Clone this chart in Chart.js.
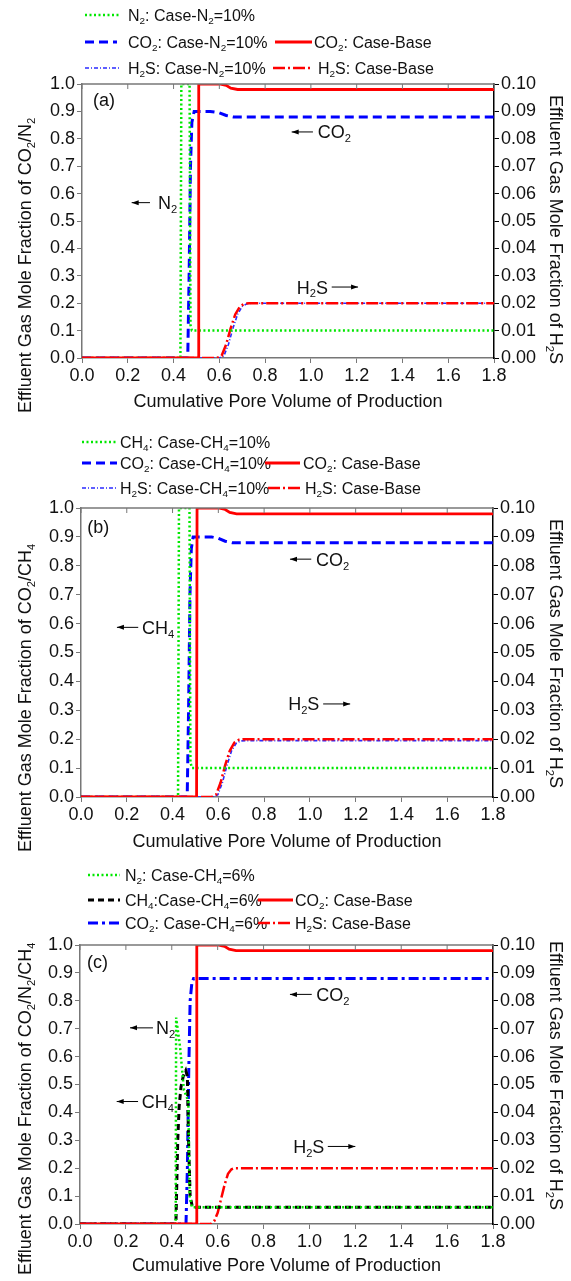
<!DOCTYPE html>
<html>
<head>
<meta charset="utf-8">
<script src="https://cdn.jsdelivr.net/npm/chart.js@4.4.1/dist/chart.umd.min.js"></script>
<style>
  body { margin: 0; background: #fff; width: 571px; height: 1281px; position: relative; overflow: hidden; }
  canvas { position: absolute; left: 0; }
</style>
</head>
<body>
<canvas id="chartA" width="571" height="420" style="top:0px"></canvas>
<canvas id="chartB" width="571" height="440" style="top:420px"></canvas>
<canvas id="chartC" width="571" height="421" style="top:860px"></canvas>
<script>
// ---- tick labels ----
const xTicks = [0, 0.2, 0.4, 0.6, 0.8, 1.0, 1.2, 1.4, 1.6, 1.8];
const yLeftTicks = [0, 0.1, 0.2, 0.3, 0.4, 0.5, 0.6, 0.7, 0.8, 0.9, 1.0];
const yRightTicks = [0, 0.01, 0.02, 0.03, 0.04, 0.05, 0.06, 0.07, 0.08, 0.09, 0.10];

// ---- panel (a) ----
const aN2X   = [0, 0.430, 0.434, 0.470, 0.474, 0.480, 1.8];
const aN2Y   = [0, 0, 1.0, 1.0, 0.12, 0.10, 0.10];
const aCO2X  = [0, 0.462, 0.468, 0.474, 0.480, 0.490, 0.560, 0.600, 0.630, 0.660, 1.8];
const aCO2Y  = [0, 0, 0.30, 0.70, 0.86, 0.90, 0.90, 0.895, 0.885, 0.88, 0.88];
const aH2SX  = [0, 0.600, 0.620, 0.640, 0.660, 0.680, 0.700, 0.720, 0.740, 1.8];
const aH2SY  = [0, 0, 0.0008, 0.005, 0.011, 0.016, 0.0188, 0.0198, 0.020, 0.020];
const aBaseCO2X = [0, 0.508, 0.510, 0.600, 0.630, 0.650, 0.680, 1.8];
const aBaseCO2Y = [0, 0, 1.0, 1.0, 0.995, 0.985, 0.98, 0.98];
const aBaseH2SX = [0, 0.590, 0.610, 0.630, 0.650, 0.670, 0.690, 0.710, 0.730, 1.8];
const aBaseH2SY = [0, 0, 0.0008, 0.005, 0.011, 0.016, 0.0188, 0.0198, 0.020, 0.020];

// ---- panel (b) ----
const bCH4X  = [0, 0.424, 0.428, 0.474, 0.478, 0.485, 1.8];
const bCH4Y  = [0, 0, 1.0, 1.0, 0.12, 0.10, 0.10];
const bCO2X  = [0, 0.464, 0.470, 0.476, 0.482, 0.490, 0.570, 0.600, 0.630, 0.660, 1.8];
const bCO2Y  = [0, 0, 0.30, 0.70, 0.86, 0.90, 0.90, 0.895, 0.885, 0.88, 0.88];
const bH2SX  = [0, 0.578, 0.598, 0.618, 0.638, 0.658, 0.678, 0.698, 0.718, 1.8];
const bH2SY  = [0, 0, 0.0008, 0.005, 0.011, 0.016, 0.0186, 0.0194, 0.0195, 0.0195];
const bBaseCO2X = [0, 0.505, 0.507, 0.600, 0.630, 0.650, 0.680, 1.8];
const bBaseCO2Y = [0, 0, 1.0, 1.0, 0.995, 0.985, 0.98, 0.98];
const bBaseH2SX = [0, 0.570, 0.590, 0.610, 0.630, 0.650, 0.670, 0.690, 0.710, 1.8];
const bBaseH2SY = [0, 0, 0.0008, 0.005, 0.011, 0.016, 0.0188, 0.0198, 0.020, 0.020];

// ---- panel (c) ----
const cN2X   = [0, 0.417, 0.419, 0.436, 0.453, 0.465, 0.472, 0.478, 0.488, 1.8];
const cN2Y   = [0, 0, 0.74, 0.635, 0.48, 0.455, 0.44, 0.10, 0.06, 0.06];
const cCH4X  = [0, 0.418, 0.422, 0.426, 0.432, 0.440, 0.450, 0.461, 0.468, 0.473, 0.480, 0.490, 1.8];
const cCH4Y  = [0, 0, 0.15, 0.30, 0.42, 0.49, 0.53, 0.55, 0.53, 0.30, 0.10, 0.06, 0.06];
const cCO2X  = [0, 0.462, 0.468, 0.474, 0.480, 0.487, 0.495, 1.8];
const cCO2Y  = [0, 0, 0.20, 0.55, 0.80, 0.86, 0.88, 0.88];
const cBaseCO2X = [0, 0.507, 0.509, 0.600, 0.630, 0.650, 0.680, 1.8];
const cBaseCO2Y = [0, 0, 1.0, 1.0, 0.995, 0.985, 0.98, 0.98];
const cBaseH2SX = [0, 0.570, 0.585, 0.600, 0.615, 0.630, 0.645, 0.660, 0.675, 1.8];
const cBaseH2SY = [0, 0, 0.001, 0.004, 0.009, 0.014, 0.018, 0.0196, 0.020, 0.020];

const FONT = '"Liberation Sans", Arial, sans-serif';

// line styles
const S = {
  green:   { color: '#00e800', width: 2.5, dash: [2, 2.5] },
  blueDash:{ color: '#0000ff', width: 3, dash: [9, 5] },
  blueH2S: { color: '#2a2aff', width: 1.6, dash: [4, 2, 1, 2] },
  red:     { color: '#ff0000', width: 2.8, dash: [] },
  redDash: { color: '#ff0000', width: 2.5, dash: [12, 3, 2, 3] },
  black:   { color: '#000000', width: 3, dash: [6, 4] },
  blueDot: { color: '#0000ff', width: 3, dash: [10, 4, 3, 4] }
};

function series(xs, ys, st, axis) {
  return {
    data: xs.map((x, i) => ({ x: x, y: ys[i] })),
    yAxisID: axis,
    borderColor: st.color,
    borderWidth: st.width,
    borderDash: st.dash,
    pointRadius: 0,
    tension: 0,
    fill: false
  };
}

// rich text with "_x" as subscript
function splitRich(str) {
  const parts = [];
  for (let i = 0; i < str.length; i++) {
    if (str[i] === '_') { parts.push({ t: str[i + 1], sub: true }); i++; }
    else if (parts.length && !parts[parts.length - 1].sub) parts[parts.length - 1].t += str[i];
    else parts.push({ t: str[i], sub: false });
  }
  return parts;
}
function richWidth(ctx, parts, size) {
  let w = 0;
  parts.forEach(p => {
    ctx.font = (p.sub ? size * 0.62 : size) + 'px ' + FONT;
    w += ctx.measureText(p.t).width;
  });
  return w;
}
// y is the middle of the capitals
function drawRich(ctx, str, x, y, size, align) {
  const parts = splitRich(str);
  const w = richWidth(ctx, parts, size);
  let cx = align === 'center' ? x - w / 2 : (align === 'right' ? x - w : x);
  const base = y + size * 0.36;
  ctx.textBaseline = 'alphabetic';
  ctx.textAlign = 'left';
  parts.forEach(p => {
    ctx.font = (p.sub ? size * 0.62 : size) + 'px ' + FONT;
    ctx.fillText(p.t, cx, p.sub ? base + size * 0.22 : base);
    cx += ctx.measureText(p.t).width;
  });
  return w;
}

function arrow(ctx, x1, y, x2) {
  ctx.save();
  ctx.setLineDash([]);
  ctx.strokeStyle = '#000';
  ctx.fillStyle = '#000';
  ctx.lineWidth = 1;
  ctx.beginPath(); ctx.moveTo(x1, y); ctx.lineTo(x2, y); ctx.stroke();
  const d = x2 > x1 ? 1 : -1;
  ctx.beginPath();
  ctx.moveTo(x2, y);
  ctx.lineTo(x2 - d * 7, y - 2.5);
  ctx.lineTo(x2 - d * 7, y + 2.5);
  ctx.closePath(); ctx.fill();
  ctx.restore();
}

// decorations per panel: legend, titles, labels
const deco = {
  chartA: {
    label: '(a)', labelAt: [0.048, 0.945],
    legend: [
      { y: 15, x0: 85, x1: 120, tx: 128, st: S.green, text: 'N_2: Case-N_2=10%' },
      { y: 42, x0: 85, x1: 117, tx: 128, st: S.blueDash, text: 'CO_2: Case-N_2=10%' },
      { y: 42, x0: 275, x1: 312, tx: 314, st: S.red, text: 'CO_2: Case-Base' },
      { y: 68, x0: 85, x1: 120, tx: 128, st: S.blueH2S, text: 'H_2S: Case-N_2=10%' },
      { y: 68, x0: 273, x1: 310, tx: 318, st: S.redDash, text: 'H_2S: Case-Base' }
    ],
    leftTitle: 'Effluent Gas Mole Fraction of CO_2/N_2', leftStart: 413,
    rightStart: 95, xTitleY: 401,
    notes: [
      { text: 'N_2', tip: 0.217, tail: 0.297, tx: 0.332, y: 0.567 },
      { text: 'CO_2', tip: 0.916, tail: 1.009, tx: 1.03, y: 0.825 },
      { text: 'H_2S', tail: 1.091, tip: 1.206, tx: 0.938, y: 0.259 }
    ]
  },
  chartB: {
    label: '(b)', labelAt: [0.027, 0.935],
    legend: [
      { y: 22, x0: 82, x1: 117, tx: 120, st: S.green, text: 'CH_4: Case-CH_4=10%' },
      { y: 43, x0: 82, x1: 117, tx: 120, st: S.blueDash, text: 'CO_2: Case-CH_4=10%' },
      { y: 43, x0: 265, x1: 300, tx: 303, st: S.red, text: 'CO_2: Case-Base' },
      { y: 68, x0: 82, x1: 117, tx: 120, st: S.blueH2S, text: 'H_2S: Case-CH_4=10%' },
      { y: 68, x0: 268, x1: 302, tx: 305, st: S.redDash, text: 'H_2S: Case-Base' }
    ],
    leftTitle: 'Effluent Gas Mole Fraction of CO_2/CH_4', leftStart: 432,
    rightStart: 99, xTitleY: 421,
    notes: [
      { text: 'CH_4', tip: 0.157, tail: 0.25, tx: 0.266, y: 0.587 },
      { text: 'CO_2', tip: 0.913, tail: 1.006, tx: 1.027, y: 0.823 },
      { text: 'H_2S', tail: 1.058, tip: 1.176, tx: 0.905, y: 0.322 }
    ]
  },
  chartC: {
    label: '(c)', labelAt: [0.03, 0.94],
    legend: [
      { y: 15, x0: 88, x1: 120, tx: 125, st: S.green, text: 'N_2: Case-CH_4=6%' },
      { y: 40, x0: 88, x1: 120, tx: 125, st: S.black, text: 'CH_4:Case-CH_4=6%' },
      { y: 40, x0: 258, x1: 293, tx: 295, st: S.red, text: 'CO_2: Case-Base' },
      { y: 63, x0: 88, x1: 120, tx: 125, st: S.blueDot, text: 'CO_2: Case-CH_4=6%' },
      { y: 63, x0: 258, x1: 293, tx: 295, st: S.redDash, text: 'H_2S: Case-Base' }
    ],
    leftTitle: 'Effluent Gas Mole Fraction of CO_2/N_2/CH_4', leftStart: 415,
    rightStart: 81, xTitleY: 405,
    notes: [
      { text: 'N_2', tip: 0.218, tail: 0.318, tx: 0.331, y: 0.703 },
      { text: 'CH_4', tip: 0.16, tail: 0.253, tx: 0.269, y: 0.439 },
      { text: 'CO_2', tip: 0.915, tail: 1.01, tx: 1.03, y: 0.823 },
      { text: 'H_2S', tail: 1.08, tip: 1.2, tx: 0.929, y: 0.278 }
    ]
  }
};

const decoPlugin = {
  id: 'decoPlugin',
  afterDraw(chart) {
    const d = deco[chart.canvas.id];
    const ctx = chart.ctx;
    const ca = chart.chartArea;
    const xs = chart.scales.x, ys = chart.scales.y;
    ctx.save();
    // top frame + inward ticks
    ctx.setLineDash([]);
    ctx.strokeStyle = '#777';
    ctx.lineWidth = 1.5;
    ctx.beginPath(); ctx.moveTo(ca.left, ca.top); ctx.lineTo(ca.right, ca.top); ctx.stroke();
    ctx.lineWidth = 1;
    xTicks.forEach(v => {
      const px = xs.getPixelForValue(v);
      ctx.beginPath(); ctx.moveTo(px, ca.top); ctx.lineTo(px, ca.top + 5); ctx.stroke();
    });
    ctx.fillStyle = '#111';
    // legend
    d.legend.forEach(it => {
      ctx.strokeStyle = it.st.color;
      ctx.lineWidth = it.st.width;
      ctx.setLineDash(it.st.dash);
      ctx.beginPath(); ctx.moveTo(it.x0, it.y); ctx.lineTo(it.x1, it.y); ctx.stroke();
      ctx.setLineDash([]);
      drawRich(ctx, it.text, it.tx, it.y, 16, 'left');
    });
    // panel label
    drawRich(ctx, d.label, xs.getPixelForValue(d.labelAt[0]), ys.getPixelForValue(d.labelAt[1]), 18, 'left');
    // annotations
    d.notes.forEach(n => {
      const py = ys.getPixelForValue(n.y);
      drawRich(ctx, n.text, xs.getPixelForValue(n.tx), py, 18, 'left');
      arrow(ctx, xs.getPixelForValue(n.tail), py, xs.getPixelForValue(n.tip));
    });
    // axis titles
    drawRich(ctx, 'Cumulative Pore Volume of Production', (ca.left + ca.right) / 2, d.xTitleY, 18, 'center');
    ctx.save();
    ctx.translate(25, d.leftStart);
    ctx.rotate(-Math.PI / 2);
    drawRich(ctx, d.leftTitle, 0, 0, 18, 'left');
    ctx.restore();
    ctx.save();
    ctx.translate(556, d.rightStart);
    ctx.rotate(Math.PI / 2);
    drawRich(ctx, 'Effluent Gas Mole Fraction of H_2S', 0, 0, 18, 'left');
    ctx.restore();
    ctx.restore();
  }
};

function makeChart(id, datasets, top, bottom, left, right) {
  const canvas = document.getElementById(id);
  const H = canvas.height;
  const tickFont = { size: 18, family: FONT };
  return new Chart(canvas, {
    type: 'line',
    data: { datasets: datasets },
    plugins: [decoPlugin],
    options: {
      responsive: false,
      animation: false,
      layout: { padding: { top: top, left: 0, right: 0, bottom: 0 } },
      plugins: { legend: { display: false }, tooltip: { enabled: false } },
      scales: {
        x: {
          type: 'linear', min: 0, max: 1.8,
          afterBuildTicks: s => { s.ticks = xTicks.map(v => ({ value: v })); },
          ticks: { callback: v => v.toFixed(1), font: tickFont, color: '#111', padding: 2, maxRotation: 0, autoSkip: false },
          grid: { drawOnChartArea: false, tickLength: 5, color: '#777' },
          border: { color: '#777', width: 1.5 },
          afterFit: s => { s.height = H - bottom; }
        },
        y: {
          position: 'left', min: 0, max: 1,
          afterBuildTicks: s => { s.ticks = yLeftTicks.map(v => ({ value: v })); },
          ticks: { callback: v => v.toFixed(1), font: tickFont, color: '#111', padding: 2 },
          grid: { drawOnChartArea: false, tickLength: 5, color: '#777' },
          border: { color: '#777', width: 1.5 },
          afterFit: s => { s.width = left; }
        },
        y2: {
          position: 'right', min: 0, max: 0.1,
          afterBuildTicks: s => { s.ticks = yRightTicks.map(v => ({ value: v })); },
          ticks: { callback: v => v.toFixed(2), font: tickFont, color: '#111', padding: 2 },
          grid: { drawOnChartArea: false, tickLength: 5, color: '#000' },
          border: { color: '#000', width: 1.5 },
          afterFit: s => { s.width = 571 - right; }
        }
      }
    }
  });
}

makeChart('chartA', [
  series(aBaseCO2X, aBaseCO2Y, S.red, 'y'),
  series(aN2X, aN2Y, S.green, 'y'),
  series(aCO2X, aCO2Y, S.blueDash, 'y'),
  series(aBaseH2SX, aBaseH2SY, S.redDash, 'y2'),
  series(aH2SX, aH2SY, S.blueH2S, 'y2')
], 84, 358, 82, 494);

makeChart('chartB', [
  series(bBaseCO2X, bBaseCO2Y, S.red, 'y'),
  series(bCH4X, bCH4Y, S.green, 'y'),
  series(bCO2X, bCO2Y, S.blueDash, 'y'),
  series(bBaseH2SX, bBaseH2SY, S.redDash, 'y2'),
  series(bH2SX, bH2SY, S.blueH2S, 'y2')
], 88, 377, 81, 493);

makeChart('chartC', [
  series(cBaseCO2X, cBaseCO2Y, S.red, 'y'),
  series(cN2X, cN2Y, S.green, 'y'),
  series(cCH4X, cCH4Y, S.black, 'y'),
  series(cCO2X, cCO2Y, S.blueDot, 'y'),
  series(cBaseH2SX, cBaseH2SY, S.redDash, 'y2')
], 85, 364, 80, 493);
</script>
</body>
</html>
